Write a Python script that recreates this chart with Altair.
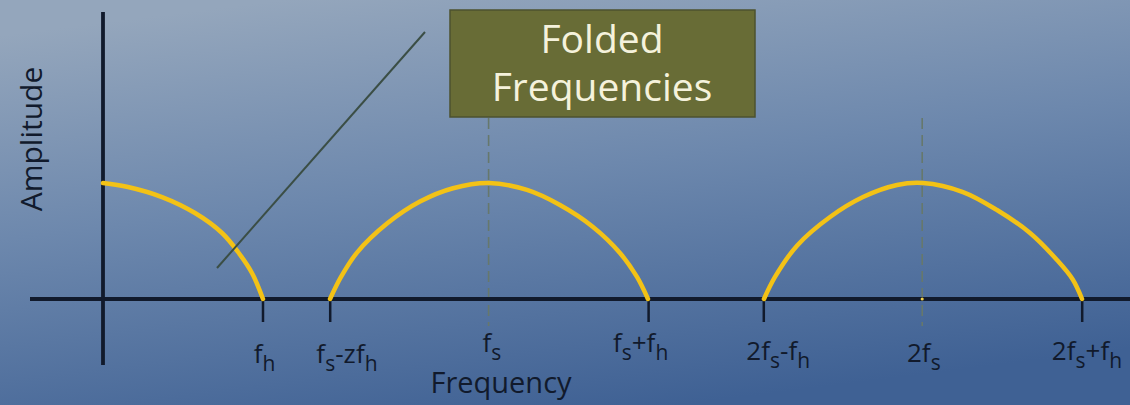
import altair as alt
import pandas as pd

# ---------------- canvas / scale geometry ----------------
W, H = 1130, 405
X0_PX, PX_PER_X = 103, 160.0      # pixel of x = 0, pixels per x unit
Y0_PX, PX_PER_Y = 299, 116.0      # pixel of amplitude = 0, pixels per amplitude unit
x_scale = alt.Scale(domain=[-X0_PX / PX_PER_X, (W - X0_PX) / PX_PER_X], nice=False, zero=False)
y_scale = alt.Scale(domain=[-(H - Y0_PX) / PX_PER_Y, Y0_PX / PX_PER_Y], nice=False, zero=False)

# ---------------- data ----------------
# spectral lobes (frequency, amplitude)
arc1_x = [0.0, 0.156, 0.369, 0.575, 0.744, 0.844, 0.931, 1.0]
arc1_a = [1.0, 0.966, 0.879, 0.741, 0.569, 0.405, 0.224, 0.0]
arc2_x = [1.419, 1.4875, 1.5875, 1.775, 1.981, 2.1875, 2.4125, 2.65, 2.856, 3.0625, 3.231, 3.3375, 3.406]
arc2_a = [0.0, 0.19, 0.40, 0.65, 0.84, 0.955, 1.0, 0.940, 0.810, 0.621, 0.397, 0.190, 0.0]
arc3_x = [4.131, 4.20, 4.3375, 4.544, 4.75, 4.9625, 5.125, 5.375, 5.5875, 5.794, 5.9625, 6.06, 6.119]
arc3_a = [0.0, 0.19, 0.46, 0.707, 0.879, 0.983, 1.0, 0.922, 0.767, 0.569, 0.336, 0.17, 0.0]

# tick marks on the frequency axis and the folding frequencies
tick_x = [1.0, 1.42, 3.41, 4.13, 6.12]
fold_x = [2.41, 5.12]

# tick labels ("_" marks the next character as a subscript)
label_text = ["f_h", "f_s-zf_h", "f_s", "f_s+f_h", "2f_s-f_h", "2f_s", "2f_s+f_h"]
label_x = [1.01, 1.525, 2.43, 3.36, 4.22, 5.13, 6.15]
label_y = [-0.552, -0.552, -0.457, -0.457, -0.526, -0.543, -0.526]

FONT = "Open Sans"
DARK = "#111a2c"
MAIN_SIZE, SUB_SIZE, SUB_DROP = 26, 21, 8
# advance widths (em) for the glyphs used in the labels
ADV = {"f": 0.339, "s": 0.477, "h": 0.614, "z": 0.477, "+": 0.572, "-": 0.322, "2": 0.572}


def px_x(p):
    return p / PX_PER_X


def px_y(p):
    return p / PX_PER_Y


# ---------------- build tables ----------------
arcs = pd.DataFrame(
    [{"x": x, "a": a, "lobe": "baseband"} for x, a in zip(arc1_x, arc1_a)]
    + [{"x": x, "a": a, "lobe": "fs"} for x, a in zip(arc2_x, arc2_a)]
    + [{"x": x, "a": a, "lobe": "2fs"} for x, a in zip(arc3_x, arc3_a)]
)

ticks = pd.DataFrame({"x": tick_x, "y": [0.0] * len(tick_x), "y2": [-px_y(23)] * len(tick_x)})
folds = pd.DataFrame({"x": fold_x, "y": [px_y(Y0_PX - 118)] * 2, "y2": [-px_y(27)] * 2})

seg_rows = []
for txt, cx, base in zip(label_text, label_x, label_y):
    parts, i = [], 0
    while i < len(txt):
        if txt[i] == "_":
            parts.append((txt[i + 1], True))
            i += 2
        else:
            parts.append((txt[i], False))
            i += 1
    widths = [ADV[c] * (SUB_SIZE if sub else MAIN_SIZE) for c, sub in parts]
    left = -sum(widths) / 2
    for (c, sub), w in zip(parts, widths):
        seg_rows.append({
            "t": c,
            "x": cx + px_x(left),
            "y": base - (px_y(SUB_DROP) if sub else 0.0),
            "sub": sub,
        })
        left += w
segs = pd.DataFrame(seg_rows)

one = pd.DataFrame({"k": [0]})


def X(f):
    return alt.X(f, type="quantitative", scale=x_scale, axis=None)


def Y(f):
    return alt.Y(f, type="quantitative", scale=y_scale, axis=None)


# ---------------- layers ----------------
background = alt.Chart(one).mark_rect(
    color=alt.LinearGradient(
        gradient="linear",
        stops=[
            alt.GradientStop(color="#94a6bc", offset=0.0),
            alt.GradientStop(color="#6d88ad", offset=0.45),
            alt.GradientStop(color="#3f6194", offset=1.0),
        ],
        x1=0.25, y1=0.0, x2=0.6, y2=1.0,
    )
).encode(x=alt.value(0), x2=alt.value(W), y=alt.value(0), y2=alt.value(H))

axes = alt.Chart(pd.DataFrame({
    "x": [-px_x(X0_PX - 30), 0.0],
    "x2": [px_x(W - X0_PX), 0.0],
    "y": [0.0, px_y(Y0_PX - 12)],
    "y2": [0.0, -px_y(365 - Y0_PX)],
})).mark_rule(color=DARK, strokeWidth=3.8).encode(x=X("x"), x2="x2", y=Y("y"), y2="y2")

tick_marks = alt.Chart(ticks).mark_rule(color=DARK, strokeWidth=2.5).encode(
    x=X("x"), y=Y("y"), y2="y2"
)

fold_lines = alt.Chart(folds).mark_rule(color="#66786c", strokeWidth=1.6, strokeDash=[11, 6]).encode(
    x=X("x"), y=Y("y"), y2="y2"
)

lobes = alt.Chart(arcs).mark_line(
    color="#f3c216", strokeWidth=4.5, interpolate="catmull-rom", strokeCap="round"
).encode(x=X("x"), y=Y("a"), detail="lobe:N", order="x:Q")

dot = alt.Chart(pd.DataFrame({"x": [fold_x[1]], "a": [0.0]})).mark_point(
    filled=True, color="#f3d24a", size=10, opacity=1
).encode(x=X("x"), y=Y("a"))

pointer = alt.Chart(pd.DataFrame({
    "x": [px_x(217 - X0_PX)], "y": [px_y(Y0_PX - 268)],
    "x2": [px_x(425 - X0_PX)], "y2": [px_y(Y0_PX - 32)],
})).mark_rule(color="#3b4e45", strokeWidth=2).encode(x=X("x"), y=Y("y"), x2="x2", y2="y2")

box = alt.Chart(pd.DataFrame({
    "x": [px_x(450 - X0_PX)], "x2": [px_x(755 - X0_PX)],
    "y": [px_y(Y0_PX - 10)], "y2": [px_y(Y0_PX - 117)],
})).mark_rect(color="#686c36", stroke="#4c522f", strokeWidth=1.5).encode(
    x=X("x"), x2="x2", y=Y("y"), y2="y2"
)

box_text = alt.Chart(pd.DataFrame({
    "t": ["Folded", "Frequencies"],
    "x": [px_x(602 - X0_PX)] * 2,
    "y": [px_y(Y0_PX - 53), px_y(Y0_PX - 101)],
})).mark_text(
    font=FONT, fontSize=39, color="#f5f2dc", align="center", baseline="alphabetic"
).encode(x=X("x"), y=Y("y"), text="t:N")

main_labels = alt.Chart(segs).transform_filter("!datum.sub").mark_text(
    font=FONT, fontSize=MAIN_SIZE, color=DARK, align="left", baseline="alphabetic"
).encode(x=X("x"), y=Y("y"), text="t:N")

sub_labels = alt.Chart(segs).transform_filter("datum.sub").mark_text(
    font=FONT, fontSize=SUB_SIZE, color=DARK, align="left", baseline="alphabetic"
).encode(x=X("x"), y=Y("y"), text="t:N")

x_title = alt.Chart(pd.DataFrame({"t": ["Frequency"], "x": [px_x(501 - X0_PX)], "y": [-px_y(393 - Y0_PX)]})).mark_text(
    font=FONT, fontSize=29, color=DARK, align="center", baseline="alphabetic"
).encode(x=X("x"), y=Y("y"), text="t:N")

y_title = alt.Chart(pd.DataFrame({"t": ["Amplitude"], "x": [-px_x(X0_PX - 42)], "y": [px_y(Y0_PX - 139)]})).mark_text(
    font=FONT, fontSize=30, color=DARK, align="center", baseline="alphabetic", angle=270
).encode(x=X("x"), y=Y("y"), text="t:N")

chart = alt.layer(
    background, fold_lines, axes, tick_marks, lobes, dot, pointer,
    box, box_text, main_labels, sub_labels, x_title, y_title,
).properties(
    width=W, height=H, padding=0, autosize=alt.AutoSizeParams(type="none"), background="#6c87ac"
).configure_view(stroke=None)

chart.save("out.html", embed_options={"renderer": "svg", "actions": False})
